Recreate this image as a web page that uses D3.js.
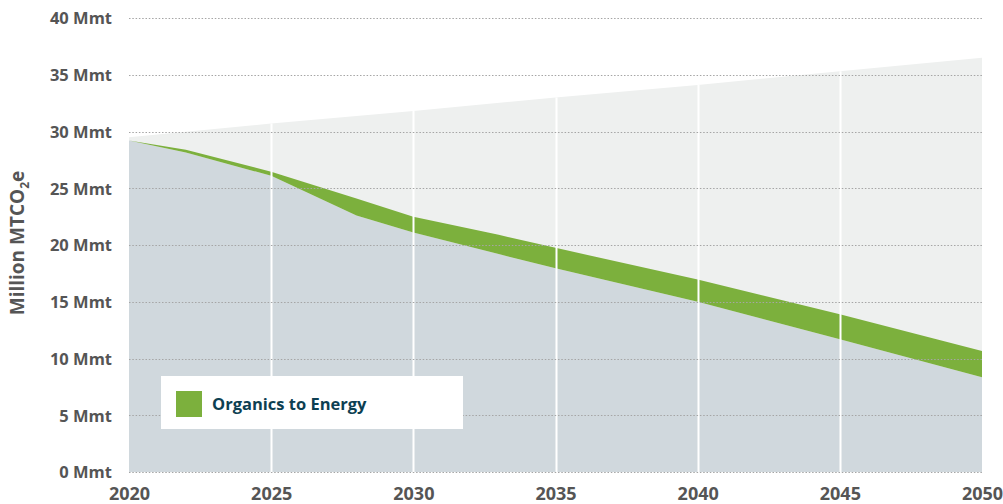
<!DOCTYPE html>
<html>
<head>
<meta charset="utf-8">
<script src="https://cdn.jsdelivr.net/npm/d3@7"></script>
<style>
  body { margin: 0; background: #fff; }
  svg text { font-family: "Open Sans", sans-serif; font-weight: 700; }
</style>
</head>
<body>
<div id="chart"></div>
<script>
// baseline (upper, light area)
var baseYears = [2020, 2025, 2030, 2035, 2040, 2045, 2050];
var baseValues = [29.5, 30.7, 31.8, 33.0, 34.1, 35.3, 36.5];

// top edge of the green band
var topYears = [2020, 2022, 2025, 2028, 2030, 2033, 2035, 2040, 2045, 2050];
var topValues = [29.2, 28.4, 26.45, 24.1, 22.5, 20.9, 19.75, 16.95, 13.9, 10.65];

// remaining emissions (gray area, lower edge of the green band)
var lowValues = [29.2, 28.15, 26.1, 22.6, 21.1, 19.2, 17.95, 15.0, 11.7, 8.35];

var yTicks = [0, 5, 10, 15, 20, 25, 30, 35, 40];
var xTicks = [2020, 2025, 2030, 2035, 2040, 2045, 2050];
var legendLabel = "Organics to Energy";

var width = 1003, height = 504;
var plotLeft = 129, plotRight = 982, plotTop = 18, plotBottom = 472;

var svg = d3.select("#chart").append("svg")
    .attr("width", width)
    .attr("height", height);

var x = d3.scaleLinear().domain([2020, 2050]).range([plotLeft, plotRight]);
var y = d3.scaleLinear().domain([0, 40]).range([plotBottom, plotTop]);
// baseline value at any year, for clipping the white year lines
var baseAt = d3.scaleLinear().domain(baseYears).range(baseValues);

var base = baseYears.map(function(d, i) { return {year: d, v: baseValues[i]}; });
var band = topYears.map(function(d, i) { return {year: d, hi: topValues[i], lo: lowValues[i]}; });

// light baseline area
svg.append("path")
    .datum(base)
    .attr("fill", "#eef0ef")
    .attr("d", d3.area()
        .x(function(d) { return x(d.year); })
        .y0(y(0))
        .y1(function(d) { return y(d.v); }));

// gray remaining emissions
svg.append("path")
    .datum(band)
    .attr("fill", "#d0d8dd")
    .attr("d", d3.area()
        .x(function(d) { return x(d.year); })
        .y0(y(0))
        .y1(function(d) { return y(d.lo); }));

// green wedge
svg.append("path")
    .datum(band)
    .attr("fill", "#7cb03d")
    .attr("d", d3.area()
        .x(function(d) { return x(d.year); })
        .y0(function(d) { return y(d.lo); })
        .y1(function(d) { return y(d.hi); }));

// white vertical year lines (only inside the filled area)
svg.selectAll("line.vgrid")
    .data(xTicks.slice(1, -1))
    .enter().append("line")
    .attr("class", "vgrid")
    .attr("x1", function(d) { return Math.round(x(d)) + 0.5; })
    .attr("x2", function(d) { return Math.round(x(d)) + 0.5; })
    .attr("y1", function(d) { return y(baseAt(d)); })
    .attr("y2", plotBottom)
    .attr("stroke", "#fff")
    .attr("stroke-width", 2);

// dotted horizontal gridlines
svg.selectAll("line.hgrid")
    .data(yTicks)
    .enter().append("line")
    .attr("class", "hgrid")
    .attr("x1", plotLeft)
    .attr("x2", plotRight)
    .attr("y1", function(d) { return Math.round(y(d)) + 0.5; })
    .attr("y2", function(d) { return Math.round(y(d)) + 0.5; })
    .attr("stroke", "#a5a5a5")
    .attr("stroke-width", 1.2)
    .attr("stroke-dasharray", "1.5,1.8");

// y axis labels
var yAxis = svg.append("g")
    .attr("transform", "translate(" + (plotLeft - 17) + ",0)")
    .call(d3.axisLeft(y).tickValues(yTicks).tickSize(0).tickPadding(0)
        .tickFormat(function(d) { return d + " Mmt"; }));
yAxis.select(".domain").remove();
yAxis.selectAll("text")
    .attr("fill", "#555")
    .style("font-size", "16.5px")
    .attr("dy", "0.36em");

// x axis labels
var xAxis = svg.append("g")
    .attr("transform", "translate(0," + (plotBottom + 14) + ")")
    .call(d3.axisBottom(x).tickValues(xTicks).tickSize(0).tickPadding(0)
        .tickFormat(d3.format("d")));
xAxis.select(".domain").remove();
xAxis.selectAll("text")
    .attr("fill", "#555")
    .style("font-size", "18px")
    .attr("dy", "0.8em");

// y title
var yTitle = svg.append("text")
    .attr("transform", "translate(24,243) rotate(-90)")
    .attr("text-anchor", "middle")
    .attr("fill", "#555")
    .style("font-size", "19px");
yTitle.append("tspan").text("Million MTCO");
yTitle.append("tspan").text("2").style("font-size", "12px").attr("dy", "5");
yTitle.append("tspan").text("e").attr("dy", "-5");

// legend
var lg = svg.append("g");
lg.append("rect")
    .attr("x", 161).attr("y", 376)
    .attr("width", 302).attr("height", 53)
    .attr("fill", "#fff");
lg.append("rect")
    .attr("x", 176).attr("y", 391)
    .attr("width", 26).attr("height", 26)
    .attr("fill", "#7cb03d");
lg.append("text")
    .attr("x", 212).attr("y", 410)
    .attr("fill", "#0d3f52")
    .style("font-size", "16.5px")
    .text(legendLabel);
</script>
</body>
</html>
